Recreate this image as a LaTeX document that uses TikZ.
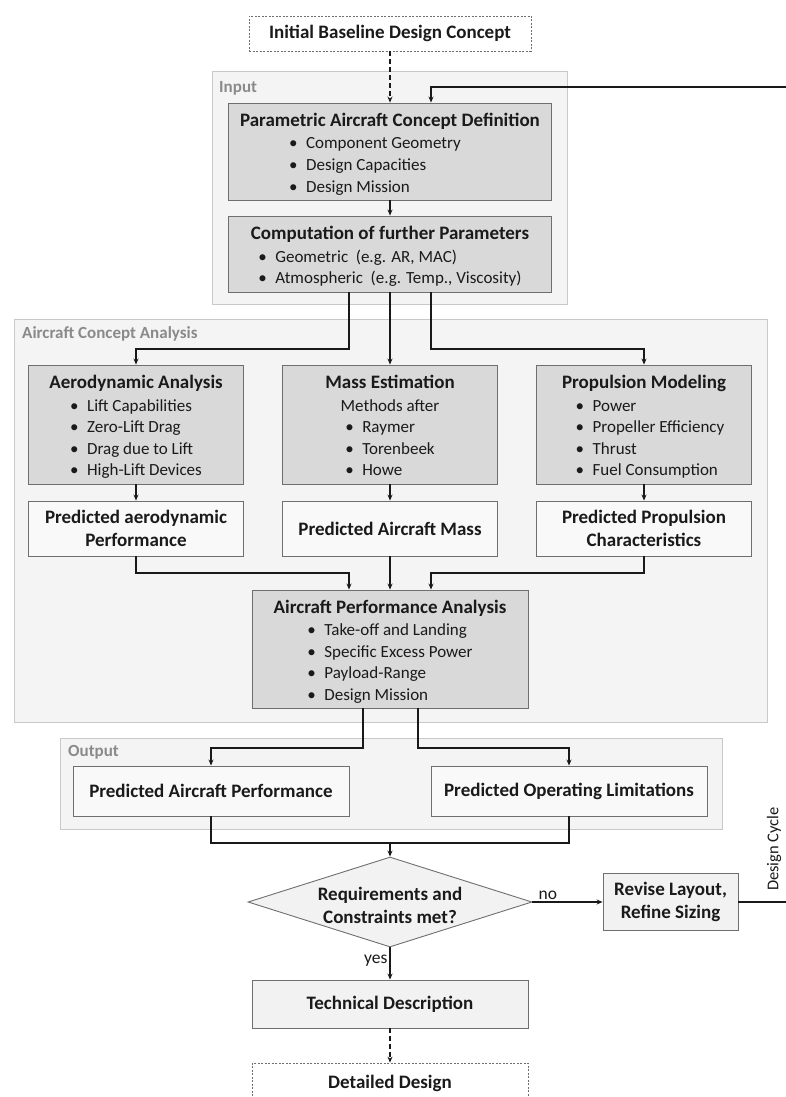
\documentclass[tikz,border=0pt]{standalone}
\usepackage{fontspec}
\setmainfont{Carlito}
\usetikzlibrary{arrows.meta,shapes.geometric}
\definecolor{boxgray}{HTML}{D9D9D9}
\definecolor{contfill}{HTML}{F4F4F4}
\definecolor{contline}{HTML}{C9C9C9}
\definecolor{boxline}{HTML}{6F6F6F}
\definecolor{lightfill}{HTML}{F2F2F2}
\definecolor{resfill}{HTML}{F9F9F9}
\definecolor{labgray}{HTML}{8A8A8A}
\definecolor{txt}{HTML}{1A1A1A}
\newcommand{\bl}[1]{\textbullet\hspace{0.5em}#1}
\newcommand{\ttl}[1]{{\fontsize{19}{22}\selectfont\bfseries #1}}
\newcommand{\ttlh}[1]{\rule{0pt}{22pt}{\fontsize{19}{22}\selectfont\bfseries #1}}
\begin{document}
\begin{tikzpicture}[x=1pt,y=-1pt,
  container/.style={draw=contline,fill=contfill,line width=1pt,inner sep=0},
  contlabel/.style={anchor=west,text=labgray,font=\fontsize{17}{19}\selectfont\bfseries,inner sep=0},
  basebox/.style={draw=boxline,line width=0.9pt,align=center,inner sep=0,text=txt,font=\fontsize{17}{21.6}\selectfont},
  graybox/.style={basebox,fill=boxgray},
  resbox/.style={basebox,fill=resfill},
  lightbox/.style={basebox,fill=lightfill},
  dashbox/.style={basebox,fill=white,draw=boxline,dash pattern=on 2pt off 1.5pt,line width=0.8pt},
  arr/.style={line width=1.1pt,draw=black!90,-{Stealth[length=6pt,width=5pt]}},
  plain/.style={line width=1.1pt,draw=black!90},
  dasharr/.style={arr,dash pattern=on 5pt off 3pt},
  edgelab/.style={text=txt,font=\fontsize{17.5}{19}\selectfont,inner sep=2pt}
]
\useasboundingbox (0,0) rectangle (786,1097);
\fill[white] (0,0) rectangle (786,1097);

% containers
\node[container,minimum width=355,minimum height=232] (incont) at (389.5,188) {};
\node[contlabel] (inlab) at (219,88) {Input};
\node[container,minimum width=753,minimum height=403] (ancont) at (390.5,520.5) {};
\node[contlabel] (anlab) at (22,334) {Aircraft Concept Analysis};
\node[container,minimum width=662,minimum height=91] (outcont) at (391,783.5) {};
\node[contlabel] (outlab) at (68,752) {Output};

% nodes
\node[dashbox,minimum width=282,minimum height=35] (init) at (390,33.5) {\ttl{Initial Baseline Design Concept}};

\node[graybox,minimum width=323,minimum height=97] (param) at (390,151.5)
  {\ttlh{Parametric Aircraft Concept Definition}\\[1pt]
   \hspace*{-30pt}\begin{tabular}[t]{@{}l@{}}\bl{Component Geometry}\\ \bl{Design Capacities}\\ \bl{Design Mission}\end{tabular}};

\node[graybox,minimum width=323,minimum height=76] (comp) at (390,254)
  {\ttlh{Computation of further Parameters}\\[1pt]
   \begin{tabular}[t]{@{}l@{}}\bl{Geometric\ \ (e.g. AR, MAC)}\\ \bl{Atmospheric\ \ (e.g. Temp., Viscosity)}\end{tabular}};

\node[graybox,minimum width=215,minimum height=119] (aero) at (136,424.5)
  {\ttlh{Aerodynamic Analysis}\\[1pt]
   \begin{tabular}[t]{@{}l@{}}\bl{Lift Capabilities}\\ \bl{Zero-Lift Drag}\\ \bl{Drag due to Lift}\\ \bl{High-Lift Devices}\end{tabular}};

\node[graybox,minimum width=215,minimum height=119] (mass) at (390,424.5)
  {\ttlh{Mass Estimation}\\[1pt] Methods after\\
   \begin{tabular}[t]{@{}l@{}}\bl{Raymer}\\ \bl{Torenbeek}\\ \bl{Howe}\end{tabular}};

\node[graybox,minimum width=215,minimum height=119] (prop) at (644,424.5)
  {\ttlh{Propulsion Modeling}\\[1pt]
   \hspace*{12pt}\begin{tabular}[t]{@{}l@{}}\bl{Power}\\ \bl{Propeller Efficiency}\\ \bl{Thrust}\\ \bl{Fuel Consumption}\end{tabular}};

\node[resbox,minimum width=215,minimum height=55] (raero) at (136,528.5)
  {\ttl{Predicted aerodynamic}\\[1pt] \ttl{Performance}};
\node[resbox,minimum width=215,minimum height=55] (rmass) at (390,528.5)
  {\ttl{Predicted Aircraft Mass}};
\node[resbox,minimum width=215,minimum height=55] (rprop) at (644,528.5)
  {\ttl{Predicted Propulsion}\\[1pt] \ttl{Characteristics}};

\node[graybox,minimum width=276,minimum height=118] (apa) at (390,649)
  {\ttlh{Aircraft Performance Analysis}\\[1pt]
   \begin{tabular}[t]{@{}l@{}}\bl{Take-off and Landing}\\ \bl{Specific Excess Power}\\ \bl{Payload-Range}\\ \bl{Design Mission}\end{tabular}};

\node[resbox,minimum width=276,minimum height=50] (out1) at (211,791) {\ttl{Predicted Aircraft Performance}};
\node[resbox,minimum width=276,minimum height=50] (out2) at (569,791) {\ttl{Predicted Operating Limitations}};

\node[lightbox,shape=diamond,aspect=3.1,minimum width=284,minimum height=90] (dec) at (390,902)
  {\rule{0pt}{20pt}\ttl{Requirements and}\\[1.5pt] \ttl{Constraints met?}};

\node[lightbox,minimum width=135,minimum height=57] (revise) at (670.5,902)
  {\ttl{Revise Layout,}\\[2pt] \ttl{Refine Sizing}};

\node[lightbox,minimum width=276,minimum height=48] (tech) at (390,1004) {\ttl{Technical Description}};
\node[dashbox,minimum width=276,minimum height=40] (detail) at (390,1083) {\ttl{Detailed Design}};

\node[edgelab,rotate=90,font=\fontsize{16.5}{18}\selectfont] (cyclab) at (774,849) {Design Cycle};

% helper coordinates
\coordinate (a1) at (349,349);
\coordinate (a3) at (431,349);
\coordinate (b1) at (349,573);
\coordinate (b3) at (431,573);
\coordinate (c1) at (363,748);
\coordinate (c2) at (418,748);
\coordinate (d0) at (390,843);
\coordinate (cyctop) at (792,87);
\coordinate (fbx) at (431,0);

% connectors
\draw[dasharr] (init.south) -- (param.north);
\draw[arr] (param.south) -- (comp.north);
\draw[arr] (comp.south -| a1) -- (a1) -| (aero.north);
\draw[arr] (comp.south) -- (mass.north);
\draw[arr] (comp.south -| a3) -- (a3) -| (prop.north);
\draw[arr] (aero.south) -- (raero.north);
\draw[arr] (mass.south) -- (rmass.north);
\draw[arr] (prop.south) -- (rprop.north);
\draw[arr] (raero.south) |- (b1) -- (b1 |- apa.north);
\draw[arr] (rmass.south) -- (apa.north);
\draw[arr] (rprop.south) |- (b3) -- (b3 |- apa.north);
\draw[arr] (apa.south -| c1) -- (c1) -| (out1.north);
\draw[arr] (apa.south -| c2) -- (c2) -| (out2.north);
\draw[plain] (out1.south) |- (d0);
\draw[arr] (out2.south) |- (d0) -- (dec.north);
\draw[arr] (dec.east) -- node[edgelab,above,pos=0.22] {no} (revise.west);
\draw[arr] (dec.south) -- node[edgelab,left,pos=0.42] {yes} (tech.north);
\draw[dasharr] (tech.south) -- (detail.north);
\draw[arr] (revise.east) -| (cyctop) -| (param.north -| fbx);
\end{tikzpicture}
\end{document}
